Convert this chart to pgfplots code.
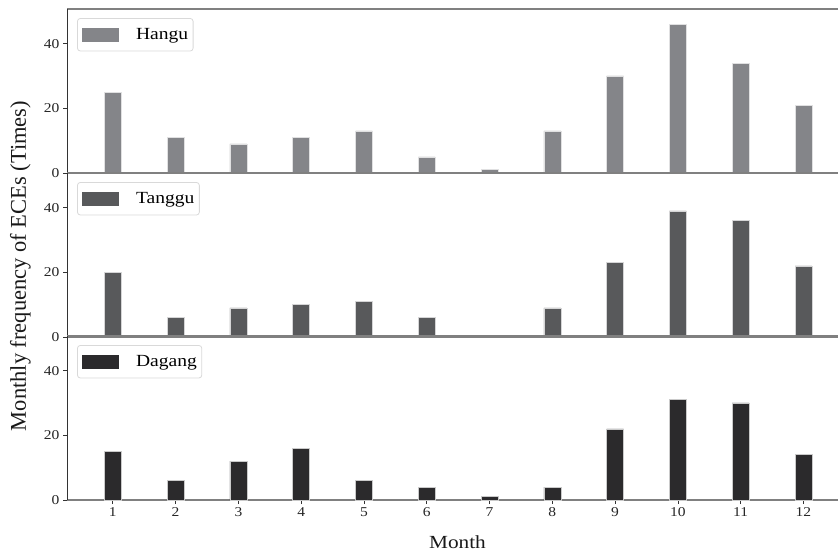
\documentclass[border=0pt]{standalone}
\usepackage{fontspec}
\setmainfont{Liberation Serif}[FakeStretch=1.15]
\newfontfamily\ylabfont{Liberation Serif}
\usepackage{pgfplots}
\pgfplotsset{compat=1.18}
\definecolor{cHangu}{HTML}{848589}
\definecolor{cTanggu}{HTML}{58595B}
\definecolor{cDagang}{HTML}{2B2A2C}
\definecolor{spinegray}{HTML}{808080}
\definecolor{spinedark}{HTML}{333333}
\pgfplotsset{
  panel/.style={
    scale only axis, width=771pt, height=164pt,
    xmin=0.27, xmax=12.55, ymin=0, ymax=50.7,
    axis x line*=box, axis y line*=left,
    x axis line style={draw=spinegray, line width=1.1pt},
    y axis line style={draw=spinedark, line width=0.9pt},
    ytick={0,20,40}, ytick pos=left, xtick pos=left,
    tick align=outside, major tick length=4pt,
    tick style={spinedark, line width=0.8pt},
    tick label style={text=black!85, font=\fontsize{13.5}{15}\selectfont},
    /pgf/number format/assume math mode=true,
    ybar, bar width=0.27, bar shift=0pt,
    legend style={at={(0.013,0.945)}, anchor=north west, draw=black!15,
      line width=0.8pt, rounded corners=3pt,
      font=\fontsize{17}{20}\selectfont, inner xsep=3pt, inner ysep=8pt},
  },
  barsty/.style={fill=#1, draw=white!75!#1, line width=0.6pt,
    legend image code/.code={\fill[#1, sharp corners] (1pt,-6.5pt) rectangle (37pt,6.5pt);
      \path (-1pt,0pt) (52pt,0pt);}},
}
\begin{document}
\begin{tikzpicture}
\useasboundingbox (0,0) rectangle (838pt,555pt);
\begin{axis}[panel, at={(67pt,382pt)}, anchor=south west, xtick=\empty]
\addplot[barsty=cHangu] coordinates {(1,25) (2,11) (3,9) (4,11) (5,13) (6,5) (7,1) (8,13) (9,30) (10,46) (11,34) (12,21)};
\addlegendentry{Hangu}
\end{axis}
\begin{axis}[panel, at={(67pt,218pt)}, anchor=south west, xtick=\empty]
\addplot[barsty=cTanggu] coordinates {(1,20) (2,6) (3,9) (4,10) (5,11) (6,6) (7,0) (8,9) (9,23) (10,39) (11,36) (12,22)};
\addlegendentry{Tanggu}
\end{axis}
\begin{axis}[panel, at={(67pt,55pt)}, anchor=south west, xtick={1,...,12}]
\addplot[barsty=cDagang] coordinates {(1,15) (2,6) (3,12) (4,16) (5,6) (6,4) (7,1) (8,4) (9,22) (10,31) (11,30) (12,14)};
\addlegendentry{Dagang}
\end{axis}
\node[rotate=90, font=\ylabfont\fontsize{22.5}{26}\selectfont, text=black!90] at (20.5pt,289pt) {Monthly frequency of ECEs (Times)};
\node[font=\fontsize{18.5}{21}\selectfont, text=black!90] at (457.5pt,13pt) {Month};
\end{tikzpicture}
\end{document}
